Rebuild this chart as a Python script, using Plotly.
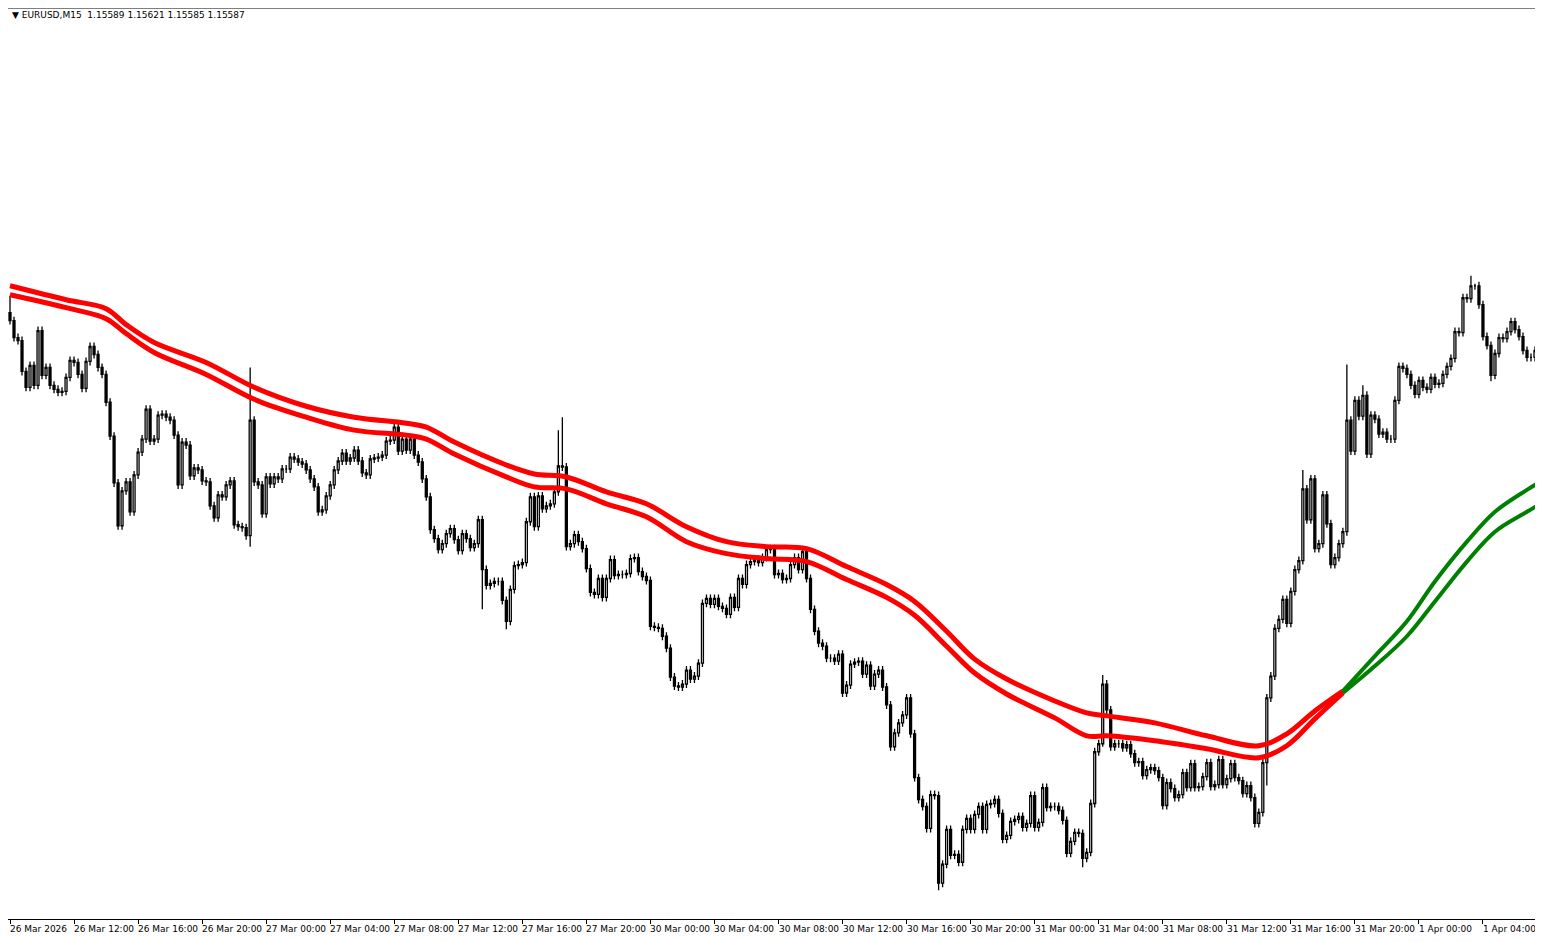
import plotly.graph_objects as go

# 15 minute bars, 26 Mar 2026 08:00 onwards
closes = [
    1.15611, 1.15577, 1.15571, 1.15509, 1.15477, 1.15521, 1.15481, 1.15591, 1.15501, 1.15517,
    1.15481, 1.15473, 1.15467, 1.15469, 1.15497, 1.15531, 1.15527, 1.15503, 1.15475, 1.15529,
    1.15559, 1.15543, 1.15517, 1.15503, 1.15447, 1.15379, 1.15285, 1.15199, 1.15269, 1.15287,
    1.15227, 1.15301, 1.15347, 1.15373, 1.15433, 1.15369, 1.15373, 1.15421, 1.15423, 1.15417,
    1.15411, 1.15381, 1.15281, 1.15367, 1.15361, 1.15299, 1.15315, 1.15311, 1.15289, 1.15287,
    1.15239, 1.15215, 1.15261, 1.15257, 1.15281, 1.15289, 1.15201, 1.15197, 1.15195, 1.15179,
    1.15411, 1.15287, 1.15281, 1.15223, 1.15297, 1.15283, 1.15297, 1.15293, 1.15313, 1.15313,
    1.15337, 1.15333, 1.15327, 1.15323, 1.15311, 1.15293, 1.15277, 1.15227, 1.15231, 1.15259,
    1.15281, 1.15311, 1.15329, 1.15345, 1.15329, 1.15335, 1.15351, 1.15329, 1.15305, 1.15301,
    1.15333, 1.15335, 1.15337, 1.15341, 1.15369, 1.15371, 1.15397, 1.15349, 1.15373, 1.15351,
    1.15373, 1.15341, 1.15327, 1.15293, 1.15257, 1.15191, 1.15173, 1.15151, 1.15163, 1.15183,
    1.15193, 1.15171, 1.15149, 1.15183, 1.15173, 1.15155, 1.15163, 1.15211, 1.15111, 1.15079,
    1.15083, 1.15087, 1.15087, 1.15049, 1.15007, 1.15071, 1.15119, 1.15121, 1.15125, 1.15207,
    1.15257, 1.15197, 1.15259, 1.15233, 1.15239, 1.15243, 1.15267, 1.15319, 1.15317, 1.15157,
    1.15163, 1.15181, 1.15167, 1.15153, 1.15113, 1.15065, 1.15061, 1.15093, 1.15055, 1.15093,
    1.15131, 1.15099, 1.15101, 1.15101, 1.15103, 1.15133, 1.15135, 1.15107, 1.15097, 1.15089,
    1.14997, 1.14995, 1.14993, 1.14977, 1.14953, 1.14895, 1.14877, 1.14875, 1.14881, 1.14909,
    1.14891, 1.14897, 1.14923, 1.15043, 1.15053, 1.15041, 1.15053, 1.15037, 1.15033, 1.15021,
    1.15055, 1.15035, 1.15093, 1.15081, 1.15121, 1.15127, 1.15131, 1.15125, 1.15135, 1.15151,
    1.15153, 1.15101, 1.15103, 1.15091, 1.15093, 1.15121, 1.15135, 1.15111, 1.15147, 1.15093,
    1.15031, 1.14987, 1.14963, 1.14957, 1.14933, 1.14933, 1.14927, 1.14941, 1.14863, 1.14879,
    1.14921, 1.14925, 1.14927, 1.14901, 1.14919, 1.14877, 1.14901, 1.14909, 1.14875, 1.14839,
    1.14755, 1.14783, 1.14803, 1.14819, 1.14853, 1.14781, 1.14693, 1.14649, 1.14635, 1.14591,
    1.14659, 1.14657, 1.14481, 1.14519, 1.14589, 1.14537, 1.14539, 1.14523, 1.14589, 1.14611,
    1.14589, 1.14619, 1.14635, 1.14589, 1.14639, 1.14641, 1.14649, 1.14621, 1.14569, 1.14577,
    1.14605, 1.14609, 1.14615, 1.14593, 1.14601, 1.14657, 1.14593, 1.14603, 1.14673, 1.14633,
    1.14635, 1.14635, 1.14627, 1.14607, 1.14541, 1.14565, 1.14583, 1.14581, 1.14531, 1.14543,
    1.14641, 1.14745, 1.14761, 1.14881, 1.14829, 1.14755, 1.14761, 1.14761, 1.14753, 1.14759,
    1.14741, 1.14723, 1.14725, 1.14697, 1.14709, 1.14713, 1.14707, 1.14693, 1.14637, 1.14683,
    1.14671, 1.14653, 1.14659, 1.14703, 1.14673, 1.14721, 1.14673, 1.14675, 1.14695, 1.14723,
    1.14675, 1.14679, 1.14729, 1.14679, 1.14691, 1.14721, 1.14693, 1.14687, 1.14661, 1.14677,
    1.14653, 1.14601, 1.14623, 1.14723, 1.14853, 1.14897, 1.14993, 1.15011, 1.15051, 1.15003,
    1.15067, 1.15111, 1.15129, 1.15273, 1.15211, 1.15293, 1.15153, 1.15163, 1.15261, 1.15203,
    1.15121, 1.15135, 1.15163, 1.15187, 1.15411, 1.15349, 1.15451, 1.15419, 1.15461, 1.15343,
    1.15421, 1.15413, 1.15383, 1.15387, 1.15373, 1.15373, 1.15451, 1.15519, 1.15515, 1.15503,
    1.15481, 1.15463, 1.15491, 1.15477, 1.15473, 1.15497, 1.15483, 1.15485, 1.15503, 1.15519,
    1.15535, 1.15589, 1.15587, 1.15657, 1.15655, 1.15681, 1.15681, 1.15643, 1.15579, 1.15561,
    1.15501, 1.15545, 1.15577, 1.15575, 1.15589, 1.15609, 1.15593, 1.15579, 1.15551, 1.15537,
    1.15537, 1.15551, 1.15569, 1.15577, 1.15587,
]
first_open = 1.15627
wick = 0.00008
spike_high = {0: 1.15661, 60: 1.15517, 137: 1.15391, 138: 1.15417, 273: 1.14899,
              323: 1.15311, 334: 1.15523, 338: 1.15481, 365: 1.15701, 366: 1.15685}
spike_low = {60: 1.15157, 118: 1.15031, 124: 1.14991, 232: 1.14467, 268: 1.14513,
             273: 1.14755, 314: 1.14677, 370: 1.15489}

# two-line moving average band
ma_idx = [0, 14, 24, 29, 36, 49, 61, 74, 86, 99, 104, 111, 124, 131, 139, 149, 159, 169, 179,
          189, 199, 209, 219, 226, 234, 241, 249, 261, 269, 274, 286, 299, 312, 319, 326, 333,
          341, 349, 356, 364, 371, 379, 384]
ma_upper = [1.15681, 1.15653, 1.15635, 1.15603, 1.15567, 1.15527, 1.15477, 1.15439, 1.15417,
            1.15405, 1.15397, 1.15367, 1.15321, 1.15303, 1.15297, 1.15267, 1.15243, 1.15197,
            1.15167, 1.15157, 1.15153, 1.15117, 1.15081, 1.15047, 1.14987, 1.14931, 1.14891,
            1.14847, 1.14823, 1.14817, 1.14803, 1.14777, 1.14757, 1.14781, 1.14827, 1.14867,
            1.14937, 1.15007, 1.15087, 1.15167, 1.15227, 1.15271, 1.15295]
ma_lower = [1.15663, 1.15637, 1.15615, 1.15585, 1.15547, 1.15503, 1.15453, 1.15417, 1.15391,
            1.15381, 1.15373, 1.15343, 1.15297, 1.15277, 1.15273, 1.15243, 1.15217, 1.15167,
            1.15143, 1.15133, 1.15127, 1.15091, 1.15055, 1.15019, 1.14957, 1.14903, 1.14861,
            1.14813, 1.14777, 1.14777, 1.14767, 1.14751, 1.14733, 1.14757, 1.14811, 1.14863,
            1.14917, 1.14977, 1.15047, 1.15127, 1.15187, 1.15227, 1.15251]
turn = 35  # position in ma_idx where the band turns up

time_labels = ["26 Mar 2026", "26 Mar 12:00", "26 Mar 16:00", "26 Mar 20:00", "27 Mar 00:00",
               "27 Mar 04:00", "27 Mar 08:00", "27 Mar 12:00", "27 Mar 16:00", "27 Mar 20:00",
               "30 Mar 00:00", "30 Mar 04:00", "30 Mar 08:00", "30 Mar 12:00", "30 Mar 16:00",
               "30 Mar 20:00", "31 Mar 00:00", "31 Mar 04:00", "31 Mar 08:00", "31 Mar 12:00",
               "31 Mar 16:00", "31 Mar 20:00", "1 Apr 00:00", "1 Apr 04:00", "1"]

opens = [first_open] + closes[:-1]
highs, lows = [], []
for i, (o, c) in enumerate(zip(opens, closes)):
    highs.append(spike_high.get(i, max(o, c) + wick))
    lows.append(spike_low.get(i, min(o, c) - wick))
idx = list(range(len(closes)))

fig = go.Figure()
fig.add_trace(go.Candlestick(
    x=idx, open=opens, high=highs, low=lows, close=closes,
    increasing=dict(line=dict(color="black", width=1.3), fillcolor="white"),
    decreasing=dict(line=dict(color="black", width=1.3), fillcolor="black"),
    whiskerwidth=0, showlegend=False, hoverinfo="skip"))

for band in (ma_upper, ma_lower):
    fig.add_trace(go.Scatter(x=ma_idx[:turn + 1], y=band[:turn + 1], mode="lines",
                             line=dict(color="#ff0000", width=5, shape="spline"),
                             showlegend=False))
    fig.add_trace(go.Scatter(x=ma_idx[turn:], y=band[turn:], mode="lines",
                             line=dict(color="#008000", width=4, shape="spline"),
                             showlegend=False))

# time labels, left-aligned at the tick like the terminal does
tick_pos = [16 * k for k in range(len(time_labels))]
for pos, txt in zip(tick_pos, time_labels):
    fig.add_annotation(x=pos, y=0, xref="x", yref="paper", yanchor="top", xanchor="left",
                       text=txt, showarrow=False, yshift=-3, xshift=-2,
                       font=dict(family="DejaVu Sans", size=9, color="black"))

fig.add_annotation(x=0, y=1, xref="paper", yref="paper", xanchor="left", yanchor="top",
                   text="▼ EURUSD,M15  1.15589 1.15621 1.15585 1.15587", showarrow=False,
                   xshift=2, yshift=0, font=dict(family="DejaVu Sans", size=9, color="black"))

fig.update_layout(
    width=1535, height=934, plot_bgcolor="white", paper_bgcolor="white",
    margin=dict(l=0, r=0, t=0, b=23),
    xaxis=dict(range=[-0.5, 383], rangeslider=dict(visible=False), showgrid=False,
               zeroline=False, tickvals=tick_pos, showticklabels=False, ticks="outside",
               ticklen=4, tickcolor="black", showline=True, linecolor="black", linewidth=1),
    yaxis=dict(range=[1.14409, 1.16239], showgrid=False, zeroline=False,
               showticklabels=False, showline=True, linecolor="black", linewidth=1),
    shapes=[dict(type="line", xref="paper", yref="paper", x0=0, x1=1, y0=1, y1=1,
                 line=dict(color="black", width=1))],
)

fig.write_html("out.html")
